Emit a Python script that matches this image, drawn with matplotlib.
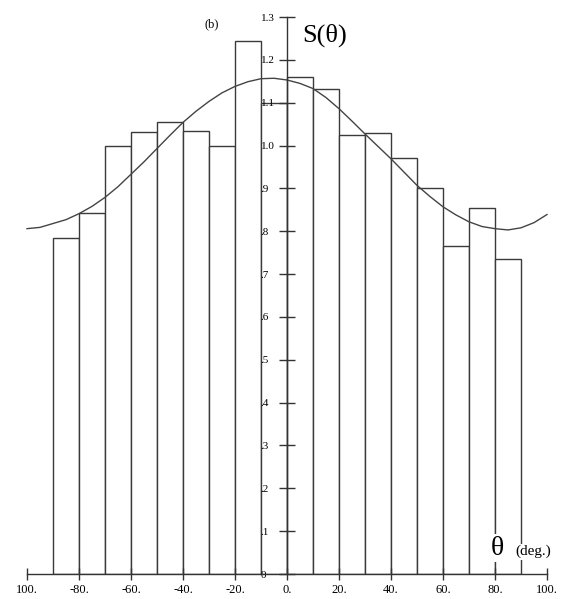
import matplotlib
matplotlib.use("Agg")
import matplotlib.pyplot as plt

plt.rcParams['font.family'] = ['Liberation Serif', 'DejaVu Serif']

# Histogram bins (left edges, deg) and heights
bin_left = [-90, -80, -70, -60, -50, -40, -30, -20, -10, 0, 10, 20, 30, 40, 50, 60, 70, 80]
bin_height = [0.785, 0.842, 1.000, 1.032, 1.054, 1.033, 0.999, 1.243, 1.099,
              1.161, 1.133, 1.025, 1.029, 0.972, 0.900, 0.766, 0.854, 0.736]

# Smooth curve
curve_theta = [-100, -95, -90, -85, -80, -75, -70, -65, -60, -55, -50, -45, -40, -35, -30,
               -25, -20, -15, -10, -5, 0, 5, 10, 15, 20, 25, 30, 35, 40, 45, 50, 55, 60,
               65, 70, 75, 80, 85, 90, 95, 100]
curve_s = [0.806, 0.809, 0.818, 0.827, 0.841, 0.858, 0.879, 0.904, 0.933, 0.962, 0.993,
           1.024, 1.054, 1.080, 1.103, 1.123, 1.138, 1.149, 1.156, 1.157, 1.153, 1.145,
           1.133, 1.112, 1.086, 1.057, 1.027, 0.998, 0.969, 0.938, 0.907, 0.881, 0.857,
           0.838, 0.822, 0.811, 0.806, 0.803, 0.808, 0.820, 0.839]

x_ticks = [-100, -80, -60, -40, -20, 0, 20, 40, 60, 80, 100]
x_labels = ['100.', '-80.', '-60.', '-40.', '-20.', '0.', '20.', '40.', '60.', '80.', '100.']
y_ticks = [0, 0.1, 0.2, 0.3, 0.4, 0.5, 0.6, 0.7, 0.8, 0.9, 1.0, 1.1, 1.2, 1.3]
y_labels = ['0', '.1', '.2', '.3', '.4', '.5', '.6', '.7', '.8', '.9', '1.0', '1.1', '1.2', '1.3']

fig = plt.figure(figsize=(5.67, 5.99), dpi=100)
ax = fig.add_axes([27 / 567, 25 / 599, 520 / 567, 557 / 599])

ax.bar(bin_left, bin_height, width=10, align='edge', facecolor='white',
       edgecolor='#3a3a3a', linewidth=1.0, zorder=1)
ax.plot(curve_theta, curve_s, color='#444444', linewidth=1.0, zorder=2, clip_on=False)

ax.set_xlim(-100, 100)
ax.set_ylim(0, 1.3)

for side in ['top', 'right']:
    ax.spines[side].set_visible(False)
ax.spines['left'].set_position(('data', 0))
ax.spines['left'].set_zorder(3)
for side in ['left', 'bottom']:
    ax.spines[side].set_color('#333333')
    ax.spines[side].set_linewidth(1.0)

ax.set_xticks(x_ticks)
ax.set_xticklabels(x_labels)
ax.set_yticks(y_ticks)
ax.set_yticklabels(y_labels)
ax.tick_params(axis='x', direction='inout', length=8, width=1, color='#333333',
               labelsize=9, pad=3)
ax.tick_params(axis='y', direction='inout', length=12, width=1, color='#333333',
               labelsize=8, pad=13)
for lab in ax.get_yticklabels():
    lab.set_ha('left')
    lab.set_va('center_baseline')

ax.text(-29, 1.283, '(b)', fontsize=9, ha='center', va='center')
ax.text(6, 1.257, 'S(θ)', fontsize=19, ha='left', va='center')
ax.text(81, 0.06, 'θ', fontsize=20, ha='center', va='center', zorder=4,
        bbox=dict(facecolor='white', edgecolor='none', pad=1))
ax.text(88, 0.052, '(deg.)', fontsize=11, ha='left', va='center', zorder=4,
        bbox=dict(facecolor='white', edgecolor='none', pad=1))

fig.savefig('out.png', dpi=100)
